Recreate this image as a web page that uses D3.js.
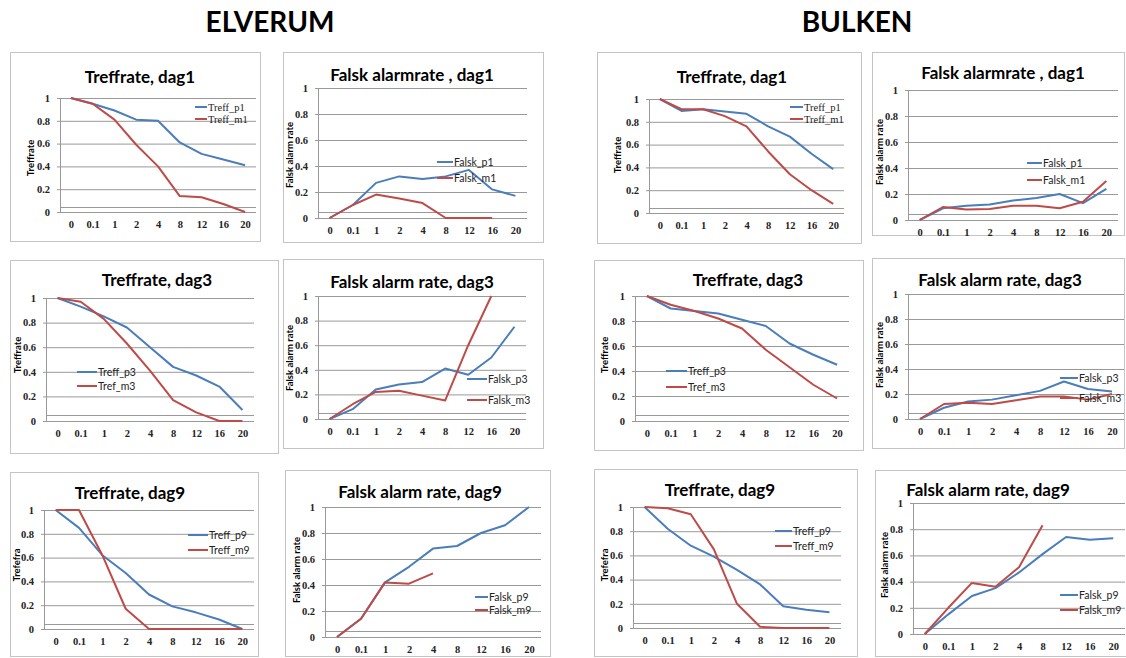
<!DOCTYPE html>
<html><head><meta charset="utf-8">
<script src="https://cdn.jsdelivr.net/npm/d3@7"></script>
<style>
body{margin:0;background:#fff;}
svg{display:block;}
</style></head>
<body>
<svg id="c" width="1126" height="658"></svg>
<script>
// ---- data ----
const categories = ["0","0.1","1","2","4","8","12","16","20"];
const yTicks = [0,0.2,0.4,0.6,0.8,1];
const groupHeaders = ["ELVERUM","BULKEN"];

const elvTreffP1 = [1,0.95,0.89,0.81,0.80,0.61,0.51,0.46,0.41];
const elvTreffM1 = [1,0.95,0.81,0.59,0.40,0.14,0.13,0.07,0.0];
const elvFalskP1 = [0,0.10,0.27,0.32,0.30,0.32,0.37,0.22,0.17];
const elvFalskM1 = [0,0.10,0.18,0.15,0.115,0,0,0,null];
const bulTreffP1 = [1,0.895,0.91,0.89,0.87,0.76,0.67,0.52,0.385];
const bulTreffM1 = [1,0.91,0.91,0.85,0.76,0.54,0.34,0.20,0.08];
const bulFalskP1 = [0,0.09,0.11,0.12,0.15,0.17,0.20,0.13,0.24];
const bulFalskM1 = [0,0.10,0.08,0.085,0.11,0.11,0.09,0.14,0.30];

const elvTreffP3 = [1,0.93,0.85,0.76,0.60,0.44,0.37,0.28,0.09];
const elvTreffM3 = [1,0.97,0.83,0.63,0.41,0.17,0.07,0.0,0.0];
const elvFalskP3 = [0,0.08,0.24,0.28,0.30,0.41,0.36,0.50,0.75];
const elvFalskM3 = [0,0.12,0.22,0.23,0.19,0.15,0.60,1.0,null];
const bulTreffP3 = [1,0.90,0.88,0.86,0.81,0.76,0.62,0.53,0.45];
const bulTreffM3 = [1,0.93,0.88,0.82,0.74,0.57,0.43,0.29,0.18];
const bulFalskP3 = [0,0.09,0.14,0.155,0.19,0.225,0.30,0.24,0.22];
const bulFalskM3 = [0,0.12,0.13,0.12,0.15,0.18,0.18,0.155,0.20];

const elvTreffP9 = [1,0.85,0.62,0.47,0.29,0.19,0.14,0.08,0.0];
const elvTreffM9 = [1,1,0.62,0.17,0.0,0,0,0,0];
const elvFalskP9 = [0,0.14,0.42,0.54,0.68,0.70,0.80,0.86,1.0];
const elvFalskM9 = [0,0.14,0.42,0.41,0.49,null,null,null,null];
const bulTreffP9 = [1,0.82,0.68,0.59,0.48,0.36,0.18,0.15,0.13];
const bulTreffM9 = [1,0.99,0.94,0.65,0.20,0.01,0,0,0];
const bulFalskP9 = [0,0.15,0.29,0.35,0.47,0.61,0.74,0.72,0.73];
const bulFalskM9 = [0,0.20,0.39,0.36,0.51,0.83,null,null,null];

// ---- layout (positions only) ----
const panels = [
 {frame:[10,52,250,189], plot:[60,256,98,212], title:[140,77], ylab:[31,158], leg:[195,12,107,119], serifLeg:true,
  title_t:"Treffrate, dag1", ylab_t:"Treffrate", s:[["Treff_p1",elvTreffP1],["Treff_m1",elvTreffM1]]},
 {frame:[283,52,260,190], plot:[318,527,88,218], title:[412,75], ylab:[290,155], leg:[437,16,162,178], serifLeg:false,
  title_t:"Falsk alarmrate , dag1", ylab_t:"Falsk alarm rate", s:[["Falsk_p1",elvFalskP1],["Falsk_m1",elvFalskM1]]},
 {frame:[597,52,264,191], plot:[649,844,99,213], title:[732,77], ylab:[618,155], leg:[790,13,107,119], serifLeg:true,
  title_t:"Treffrate, dag1", ylab_t:"Treffrate", s:[["Treff_p1",bulTreffP1],["Treff_m1",bulTreffM1]]},
 {frame:[872,52,252,183], plot:[908,1118,90,220], title:[1003,73], ylab:[880,152], leg:[1027,15,163,180], serifLeg:false,
  title_t:"Falsk alarmrate , dag1", ylab_t:"Falsk alarm rate", s:[["Falsk_p1",bulFalskP1],["Falsk_m1",bulFalskM1]]},

 {frame:[10,260,268,193], plot:[46,254,298,421], title:[157,280], ylab:[18,355], leg:[77,20,372,386], serifLeg:false,
  title_t:"Treffrate, dag3", ylab_t:"Treffrate", s:[["Treff_p3",elvTreffP3],["Tref_m3",elvTreffM3]]},
 {frame:[283,259,260,189], plot:[318,526,296,419], title:[412,282], ylab:[290,358], leg:[467,20,379,400], serifLeg:false,
  title_t:"Falsk alarm rate, dag3", ylab_t:"Falsk alarm rate", s:[["Falsk_p3",elvFalskP3],["Falsk_m3",elvFalskM3]]},
 {frame:[594,260,269,190], plot:[635,849,296,421], title:[748,280], ylab:[605,355], leg:[666,21,371,387], serifLeg:false,
  title_t:"Treffrate, dag3", ylab_t:"Treffrate", s:[["Treff_p3",bulTreffP3],["Tref_m3",bulTreffM3]]},
 {frame:[872,258,252,190], plot:[908,1124,294,419], title:[1000,280], ylab:[880,355], leg:[1060,18,378,398], serifLeg:false,
  title_t:"Falsk alarm rate, dag3", ylab_t:"Falsk alarm rate", s:[["Falsk_p3",bulFalskP3],["Falsk_m3",bulFalskM3]]},

 {frame:[10,472,248,184], plot:[44,254,510,629], title:[130,493], ylab:[17,565], leg:[188,20,535,550], serifLeg:false,
  title_t:"Treffrate, dag9", ylab_t:"Trefefra", s:[["Treff_p9",elvTreffP9],["Treff_m9",elvTreffM9]]},
 {frame:[285,470,265,186], plot:[325,541,507,637], title:[420,492], ylab:[297,570], leg:[475,13,597,610], serifLeg:false,
  title_t:"Falsk alarm rate, dag9", ylab_t:"Falsk alarm rate", s:[["Falsk_p9",elvFalskP9],["Falsk_m9",elvFalskM9]]},
 {frame:[594,469,263,187], plot:[633,841,507,628], title:[720,490], ylab:[605,565], leg:[775,17,531,546], serifLeg:false,
  title_t:"Treffrate, dag9", ylab_t:"Trefefra", s:[["Treff_p9",bulTreffP9],["Treff_m9",bulTreffM9]]},
 {frame:[875,470,252,186], plot:[913,1125,503,634], title:[988,490], ylab:[885,565], leg:[1060,18,595,610], serifLeg:false,
  title_t:"Falsk alarm rate, dag9", ylab_t:"Falsk alarm rate", s:[["Falsk_p9",bulFalskP9],["Falsk_m9",bulFalskM9]]}
];
const colors = ["#4a7ebb","#be4b48"];
const sans = "Lato, 'Open Sans', sans-serif";
const serif = "'Liberation Serif', 'DejaVu Serif', serif";

const svg = d3.select("#c");

// headers
svg.append("text").attr("x",270).attr("y",32).attr("text-anchor","middle")
  .style("font-family",sans).style("font-weight",700).style("font-size","28px").text(groupHeaders[0]);
svg.append("text").attr("x",857).attr("y",32).attr("text-anchor","middle")
  .style("font-family",sans).style("font-weight",700).style("font-size","28px").text(groupHeaders[1]);

panels.forEach(p => {
  const g = svg.append("g");
  const [fx,fy,fw,fh] = p.frame;
  g.append("rect").attr("x",fx+0.5).attr("y",fy+0.5).attr("width",fw).attr("height",fh)
    .attr("fill","#fff").attr("stroke","#c4c4c4").attr("stroke-width",1);
  const [l,r,t,b] = p.plot;
  const x = d3.scalePoint().domain(categories).range([l,r]).padding(0.5);
  const y = d3.scaleLinear().domain([0,1]).range([b,t]);

  // gridlines
  const grid = g.append("g").attr("transform",`translate(${l},0)`)
    .call(d3.axisLeft(y).tickValues(yTicks).tickSize(-(r-l)).tickFormat(""));
  grid.select(".domain").remove();
  grid.selectAll("line").attr("stroke","#999").attr("stroke-width",1);
  // extra near-zero line (category axis offset)
  g.append("line").attr("x1",l).attr("x2",r).attr("y1",Math.round(y(0.045))+0.5).attr("y2",Math.round(y(0.045))+0.5)
    .attr("stroke","#999").attr("stroke-width",1);

  // y axis
  const ya = g.append("g").attr("transform",`translate(${l},0)`)
    .call(d3.axisLeft(y).tickValues(yTicks).tickSize(3).tickPadding(7).tickFormat(d3.format("~g")));
  ya.select(".domain").attr("stroke","#999");
  ya.selectAll("line").attr("stroke","#999");
  ya.selectAll("text").style("font-family",serif).style("font-weight",700).style("font-size","10.5px").attr("fill","#222");

  // x axis labels
  const xa = g.append("g").attr("transform",`translate(0,${b})`)
    .call(d3.axisBottom(x).tickSize(0).tickPadding(9));
  xa.select(".domain").remove();
  xa.selectAll("text").style("font-family",serif).style("font-weight",700).style("font-size","10.5px").attr("fill","#222");

  // title
  g.append("text").attr("x",p.title[0]).attr("y",p.title[1]+6).attr("text-anchor","middle")
    .style("font-family",sans).style("font-weight",700).style("font-size","17px").text(p.title_t);
  // y label
  g.append("text").attr("transform",`translate(${p.ylab[0]+3},${p.ylab[1]}) rotate(-90)`).attr("text-anchor","middle")
    .style("font-family",sans).style("font-weight",700).style("font-size","9.5px").text(p.ylab_t);

  // lines
  const line = d3.line().defined(d => d.v !== null).x(d => x(d.c)).y(d => y(d.v));
  p.s.forEach((s,i) => {
    const pts = categories.map((c,j) => ({c:c, v:s[1][j]}));
    g.append("path").datum(pts).attr("d",line).attr("fill","none")
      .attr("stroke",colors[i]).attr("stroke-width",2).attr("stroke-linejoin","round");
  });

  // legend
  const [lx,llen,ly1,ly2] = p.leg;
  [ly1,ly2].forEach((ly,i) => {
    g.append("line").attr("x1",lx).attr("x2",lx+llen).attr("y1",ly).attr("y2",ly)
      .attr("stroke",colors[i]).attr("stroke-width",2);
    g.append("text").attr("x",lx+llen+1).attr("y",ly+3.5)
      .style("font-family",p.serifLeg?serif:sans).style("font-size","10.5px").attr("fill","#222").text(p.s[i][0]);
  });
});
</script>
</body></html>
